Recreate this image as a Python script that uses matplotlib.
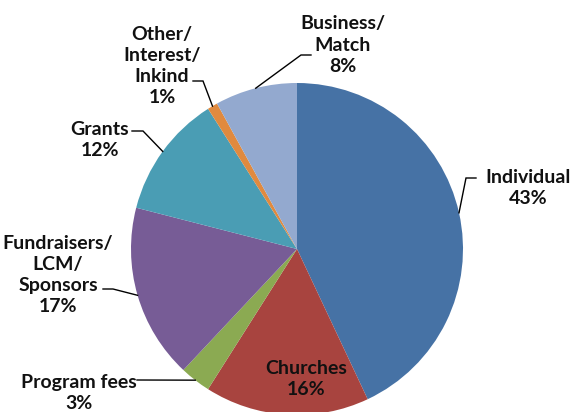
import numpy as np
import matplotlib.pyplot as plt

# ---- data ---------------------------------------------------------------
labels = ["Individual", "Churches", "Program fees", "Fundraisers/\nLCM/\nSponsors",
          "Grants", "Other/\nInterest/\nInkind", "Business/\nMatch"]
shares = [43, 16, 3, 17, 12, 1, 8]
colors = ["#4672A5", "#A8443F", "#8BAA52", "#775C96", "#4A9DB4", "#E08A3F", "#93A9CF"]

# label text centres (pixels, y down) -- layout only
label_pos = [(528, 188), (306, 379), (79, 393), (58, 275),
             (100, 140), (162, 66), (343, 45)]
# elbow of leader line: (start x, elbow x, y) in pixels, y down
leader = {0: (476, 466, 178), 2: (137, 137, 380), 3: (103, 113, 289),
          4: (132, 143, 131), 5: (193, 203, 81), 6: (311, 301, 55)}

W, H = 571, 412
cx, cy, R = 297, H - 249, 166

fig = plt.figure(figsize=(W / 100, H / 100), dpi=100)
ax = fig.add_axes([0, 0, 1, 1])

wedges, _ = ax.pie(shares, colors=colors, startangle=90, counterclock=False,
                   center=(cx, cy), radius=R, frame=True,
                   wedgeprops=dict(linewidth=0))
ax.set_xlim(0, W)
ax.set_ylim(0, H)
ax.set_aspect("equal")
ax.axis("off")

font = dict(family=["Lato", "DejaVu Sans"], weight="bold", fontsize=14,
            color="#111111", ha="center", va="center", linespacing=1.3)

for i, (lab, s) in enumerate(zip(labels, shares)):
    x, y = label_pos[i]
    ax.text(x, H - y, f"{lab}\n{s}%", **font)
    if i in leader:
        w = wedges[i]
        mid = np.deg2rad((w.theta1 + w.theta2) / 2)
        ex, ey = cx + R * np.cos(mid), cy + R * np.sin(mid)
        x0, x1, ly = leader[i]
        ax.plot([x0, x1, ex], [H - ly, H - ly, ey], color="black", lw=1.0,
                solid_joinstyle="miter")

fig.savefig("out.png", dpi=100)
